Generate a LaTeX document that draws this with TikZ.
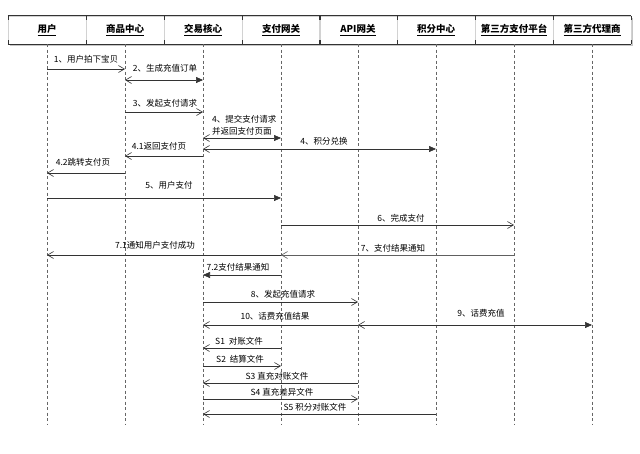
\documentclass[tikz,border=0pt]{standalone}
\usepackage{fontspec}
\setmainfont{Noto Sans CJK SC}
\usetikzlibrary{arrows.meta}
\definecolor{ln}{HTML}{333333}
\tikzset{
  headbox/.style={minimum width=78pt,minimum height=28pt,inner sep=0pt,draw=gray!35,line width=0.4pt,font=\fontsize{9.5}{11}\selectfont\bfseries},
  lifeline/.style={draw=gray!80!black,dash pattern=on 3pt off 2.5pt,line width=0.6pt},
  msg/.style={draw=ln,line width=0.6pt,-{Straight Barb[length=6pt,width=7pt,line width=0.6pt]}},
  msgf/.style={draw=ln,line width=0.6pt,-{Triangle[length=7pt,width=6pt]}},
  msgd/.style={draw=ln,line width=0.6pt,{Straight Barb[length=6pt,width=7pt,line width=0.6pt]}-{Triangle[length=7pt,width=6pt]}},
  lbl/.style={font=\fontsize{8.5}{10}\selectfont,inner sep=0pt,text=black}
}
\newcommand\msgline[4]{\draw[#4] (#1 |- 0,#3) -- (#2 |- 0,#3);}
\begin{document}
\begin{tikzpicture}[x=1pt,y=-1pt]
\useasboundingbox (0,0) rectangle (640,453);
\fill[white] (0,0) rectangle (640,453);
% header
\fill[gray!45] (9.5,17.5) rectangle (632.5,46);
\fill[white] (8,16) rectangle (631,44);
\foreach \n/\x/\t in {h1/47/用户,h2/125/商品中心,h3/203/交易核心,h4/281/支付网关,h5/358/API网关,h6/436/积分中心,h7/514/第三方支付平台,h8/592/第三方代理商}{
  \node[headbox] (\n) at (\x,30) {\underline{\t}};
}
\draw[ln,line width=0.8pt] (h1.north west) -- (h8.north east);
\draw[ln,line width=0.8pt] (h1.south west) -- (h8.south east);
\foreach \n in {h1,h2,h3,h4,h5,h6,h7,h8}{
  \draw[ln,line width=0.6pt] (\n.north west) -- ++(0,4);
  \draw[ln,line width=0.6pt] (\n.south west) -- ++(0,-4);
  \draw[ln,line width=0.6pt] (\n.north east) -- ++(0,4);
  \draw[ln,line width=0.6pt] (\n.south east) -- ++(0,-4);
}
% lifelines
\foreach \n in {h1,h2,h3,h4,h5,h6,h7,h8}{
  \coordinate (\n e) at (\n |- 0,424);
  \draw[lifeline] (\n.south) -- (\n e);
}
% messages
\msgline{h1}{h2}{69}{msg}
\node[lbl] (l1) at (86,59) {1、用户拍下宝贝};
\msgline{h2}{h3}{80}{msgd}
\node[lbl] (l2) at (165,68) {2、生成充值订单};
\msgline{h2}{h3}{112}{msg}
\node[lbl] (l3) at (165,103) {3、发起支付请求};
\msgline{h3}{h4}{138}{msgd}
\node[lbl,anchor=west] (l4a) at (212,119) {4、提交支付请求};
\node[lbl,anchor=west] (l4b) at (212,131) {并返回支付页面};
\msgline{h3}{h6}{149}{msgd}
\node[lbl] (l4c) at (324,141) {4、积分兑换};
\msgline{h3}{h2}{156}{msg}
\node[lbl] (l41) at (159,146) {4.1返回支付页};
\msgline{h2}{h1}{173}{msg}
\node[lbl] (l42) at (83,162) {4.2跳转支付页};
\msgline{h1}{h4}{198}{msgf}
\node[lbl] (l5) at (169,185) {5、用户支付};
\msgline{h4}{h7}{225}{msg}
\node[lbl] (l6) at (401,218) {6、完成支付};
\draw[gray!75!black,line width=1pt,-{Straight Barb[length=6pt,width=7pt,line width=0.6pt]}] (h7 |- 0,255) -- (h4 |- 0,255);
\node[lbl] (l7) at (393,248) {7、支付结果通知};
\msgline{h4}{h1}{255}{msg}
\node[lbl] (l71) at (155,245) {7.1通知用户支付成功};
\msgline{h4}{h3}{275}{msgf}
\node[lbl] (l72) at (238,267) {7.2支付结果通知};
\msgline{h3}{h5}{302}{msg}
\node[lbl] (l8) at (283,294) {8、发起充值请求};
\msgline{h5}{h3}{325}{msg}
\node[lbl] (l10) at (275,316) {10、话费充值结果};
\msgline{h5}{h8}{325}{msgd}
\node[lbl] (l9) at (481,313) {9、话费充值};
\msgline{h4}{h3}{348}{msg}
\node[lbl] (s1) at (239,341) {S1\ \ 对账文件};
\msgline{h3}{h4}{366}{msg}
\node[lbl] (s2) at (240,359) {S2\ \ 结算文件};
\msgline{h5}{h3}{383}{msg}
\node[lbl] (s3) at (277,376) {S3 直充对账文件};
\msgline{h3}{h5}{399}{msg}
\node[lbl] (s4) at (282,392) {S4 直充差异文件};
\msgline{h6}{h3}{414}{msg}
\node[lbl] (s5) at (315,407) {S5 积分对账文件};
\end{tikzpicture}
\end{document}
